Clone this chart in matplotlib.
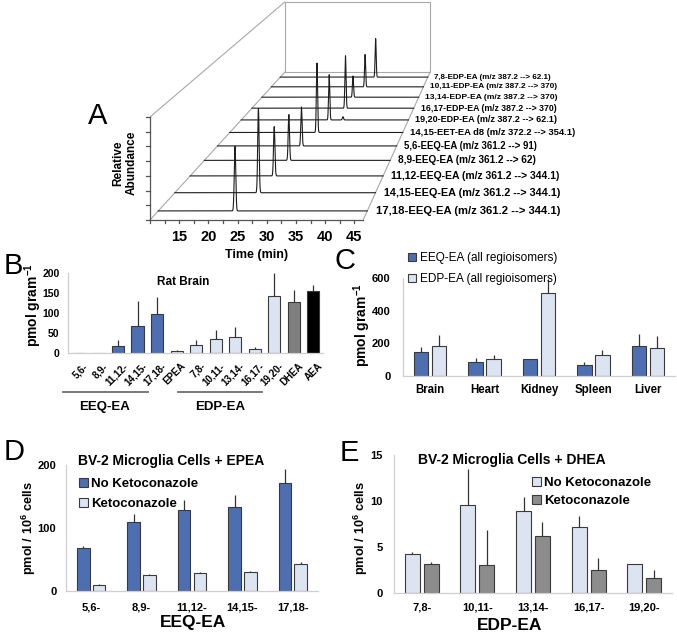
import numpy as np
import matplotlib
matplotlib.use('Agg')
import matplotlib.pyplot as plt
from matplotlib.patches import Patch

plt.rcParams['font.family'] = ['Liberation Sans', 'DejaVu Sans']
plt.rcParams['mathtext.fontset'] = 'custom'
plt.rcParams['mathtext.rm'] = 'Liberation Sans'
plt.rcParams['mathtext.bf'] = 'Liberation Sans:bold'

# ---- Panel A: stacked chromatograms (front to back)
a_labels = ['17,18-EEQ-EA (m/z 361.2 --> 344.1)',
            '14,15-EEQ-EA (m/z 361.2 --> 344.1)',
            '11,12-EEQ-EA (m/z 361.2 --> 344.1)',
            '8,9-EEQ-EA (m/z 361.2 --> 62)',
            '5,6-EEQ-EA (m/z 361.2 --> 91)',
            '14,15-EET-EA d8 (m/z 372.2 --> 354.1)',
            '19,20-EDP-EA (m/z 387.2 --> 62.1)',
            '16,17-EDP-EA (m/z 387.2 --> 370)',
            '13,14-EDP-EA (m/z 387.2 --> 370)',
            '10,11-EDP-EA (m/z 387.2 --> 370)',
            '7,8-EDP-EA (m/z 387.2 --> 62.1)']
a_rt = [23.4, 25.2, 25.9, 26.6, 27.1, 28.4, 29.2, 31.1, 31.2, 32.5, 33.6]
a_height = [64, 87, 53, 51, 45, 83, 56, 67, 28, 44, 54]
a_minor_trace = 6
a_minor_rt = 32.2
a_minor_height = 4
a_time_ticks = [15, 20, 25, 30, 35, 40, 45]

# ---- Panel B: rat brain
b_cats = ['5,6-', '8,9-', '11,12-', '14,15-', '17,18-', 'EPEA', '7,8-', '10,11-',
          '13,14-', '16,17-', '19,20-', 'DHEA', 'AEA']
b_vals = [0, 0, 17, 67, 97, 6, 20, 36, 41, 10, 143, 128, 155]
b_err = [0, 0, 15, 63, 43, 2, 12, 21, 23, 5, 57, 30, 15]
b_groups = ['EEQ', 'EEQ', 'EEQ', 'EEQ', 'EEQ', 'EDP', 'EDP', 'EDP', 'EDP', 'EDP', 'EDP',
            'DHEA', 'AEA']

# ---- Panel C: tissues
c_cats = ['Brain', 'Heart', 'Kidney', 'Spleen', 'Liver']
c_eeq = [150, 85, 103, 68, 182]
c_eeq_err = [30, 28, 4, 15, 78]
c_edp = [183, 107, 507, 130, 170]
c_edp_err = [69, 19, 88, 32, 75]

# ---- Panel D: BV-2 + EPEA
d_cats = ['5,6-', '8,9-', '11,12-', '14,15-', '17,18-']
d_nokc = [68, 110, 128, 133, 172]
d_nokc_err = [3, 12, 17, 20, 21]
d_kc = [10, 26, 28, 30, 43]
d_kc_err = [0.5, 1, 1.5, 2, 3]

# ---- Panel E: BV-2 + DHEA
e_cats = ['7,8-', '10,11-', '13,14-', '16,17-', '19,20-']
e_nokc = [4.2, 9.6, 8.95, 7.2, 3.1]
e_nokc_err = [0.25, 3.85, 1.5, 1.2, 0]
e_kc = [3.15, 3.05, 6.25, 2.55, 1.6]
e_kc_err = [0.2, 3.75, 1.5, 1.25, 0.9]

blue = '#4d6eb0'
light = '#dce3f1'
grey = '#8c8c8c'
edge = '#3a3a3a'
spine = '#cfcfcf'

W, H = 677, 635
fig = plt.figure(figsize=(W / 100, H / 100), dpi=100)


def rect(l, t, r, b):
    return [l / W, 1 - b / H, (r - l) / W, (b - t) / H]


def ftext(x, y, s, **kw):
    fig.text(x / W, 1 - y / H, s, **kw)


# ---------------- Panel A (pseudo 3D in pixel space)
axA = fig.add_axes([0, 0, 1, 1])
axA.set_xlim(0, W)
axA.set_ylim(H, 0)
axA.axis('off')

VX, VY = 573, -244
T0, T1 = 10, 46.5
ZB = 11


def proj(t, h, z):
    s = 1 / (1 + 0.0425 * z)
    X = 150 + (np.asarray(t) - T0) * 5.84
    Y = 220 - np.asarray(h) * 1.03
    return VX + (X - VX) * s, VY + (Y - VY) * s


def seg(p, q, **kw):
    axA.plot([p[0], q[0]], [p[1], q[1]], **kw)


box = dict(color='#a8a8a8', lw=0.8)
seg(proj(T0, 0, 0), proj(T0, 0, ZB), **box)
seg(proj(T1, 0, 0), proj(T1, 0, ZB), **box)
seg(proj(T0, 100, 0), proj(T0, 100, ZB), **box)
bw = [proj(T0, 0, ZB), proj(T1, 0, ZB), proj(T1, 100, ZB), proj(T0, 100, ZB), proj(T0, 0, ZB)]
axA.plot([p[0] for p in bw], [p[1] for p in bw], **box)

ax_style = dict(color='#555555', lw=0.9)
seg(proj(T0, 0, 0), proj(T1, 0, 0), **ax_style)
seg(proj(T0, 0, 0), proj(T0, 100, 0), **ax_style)
for h in np.linspace(0, 100, 8):
    x, y = proj(T0, h, 0)
    axA.plot([x - 4, x], [y, y], **ax_style)
for t in np.arange(10, 46, 2.5):
    x, y = proj(t, 0, 0)
    axA.plot([x, x], [y, y + 3], **ax_style)
for t in a_time_ticks:
    x, y = proj(t, 0, 0)
    axA.text(x, y + 17, str(t), ha='center', va='center', fontsize=10.5, fontweight='bold')
xm, ym = proj(28.25, 0, 0)
axA.text(xm, ym + 35, 'Time (min)', ha='center', va='center', fontsize=9, fontweight='bold')
axA.text(125, 163, 'Relative\nAbundance', rotation=90, ha='center', va='center',
         fontsize=8.5, fontweight='bold', linespacing=1.1)

tt = np.linspace(T0, T1, 3000)
for k in range(len(a_labels)):
    z = k + 0.47
    sig = 0.13
    yv = a_height[k] * np.exp(-0.5 * ((tt - a_rt[k]) / sig) ** 2)
    if k == a_minor_trace:
        yv = yv + a_minor_height * np.exp(-0.5 * ((tt - a_minor_rt) / sig) ** 2)
    px, py = proj(tt, yv, z)
    axA.plot(px, py, color='#1e1e1e', lw=0.8)
    s = 1 / (1 + 0.0425 * z)
    ex, ey = proj(T1, 0, z)
    axA.text(ex + 9 * s, ey, a_labels[k], ha='left', va='center',
             fontsize=8.3 * s, fontweight='bold')


def style(ax, ypad):
    for sp in ['top', 'right']:
        ax.spines[sp].set_visible(False)
    for sp in ['left', 'bottom']:
        ax.spines[sp].set_color(spine)
        ax.spines[sp].set_linewidth(0.9)
    ax.tick_params(length=0)
    ax.tick_params(axis='y', pad=ypad)
    for lab in ax.get_yticklabels():
        lab.set_fontweight('bold')


def errs(ax, x, v, e):
    ax.errorbar(x, v, yerr=[np.zeros(len(e)), e], fmt='none', ecolor='#333333',
                elinewidth=0.9, capsize=0)


# ---------------- Panel B
axB = fig.add_axes(rect(68, 273, 323, 353))
xb = np.arange(len(b_cats))
bcol = {'EEQ': blue, 'EDP': light, 'DHEA': '#7f7f7f', 'AEA': '#000000'}
axB.bar(xb, b_vals, 0.62, color=[bcol[g] for g in b_groups], edgecolor=edge, lw=0.8)
errs(axB, xb, b_vals, b_err)
axB.set_xlim(-0.56, 12.5)
axB.set_ylim(0, 200)
axB.set_yticks([0, 50, 100, 150, 200])
axB.set_xticks([])
style(axB, 6)
for lab in axB.get_yticklabels():
    lab.set_fontsize(7.5)
tr = axB.get_xaxis_transform()
for i, c in enumerate(b_cats):
    axB.text(i + 0.22, -0.1, c, transform=tr, rotation=45, ha='right', va='top',
             rotation_mode='anchor', fontsize=7, fontweight='bold')
axB.plot([-0.82, 3.54], [-0.49, -0.49], transform=tr, clip_on=False, color='#6e6e6e', lw=1.3)
axB.plot([5.08, 9.38], [-0.49, -0.49], transform=tr, clip_on=False, color='#6e6e6e', lw=1.3)
ftext(105, 407, 'EEQ-EA', ha='center', va='center', fontsize=9.5, fontweight='bold')
ftext(220, 407, 'EDP-EA', ha='center', va='center', fontsize=9.5, fontweight='bold')
ftext(183, 282, 'Rat Brain', ha='center', va='center', fontsize=8.5, fontweight='bold')
ftext(33, 305, r'pmol gram$^{\mathbf{-1}}$', rotation=90, ha='center', va='center',
      fontsize=10, fontweight='bold')

# ---------------- Panel C
axC = fig.add_axes(rect(403, 278, 675, 376))
xc = np.arange(len(c_cats))
axC.bar(xc - 0.166, c_eeq, 0.267, color=blue, edgecolor=edge, lw=0.8)
axC.bar(xc + 0.166, c_edp, 0.267, color=light, edgecolor=edge, lw=0.8)
errs(axC, xc - 0.166, c_eeq, c_eeq_err)
errs(axC, xc + 0.166, c_edp, c_edp_err)
axC.set_xlim(-0.5, 4.5)
axC.set_ylim(0, 600)
axC.set_yticks([0, 200, 400, 600])
axC.set_xticks(xc, c_cats, fontsize=8.3, fontweight='bold')
style(axC, 9)
axC.tick_params(axis='x', pad=6)
for lab in axC.get_yticklabels():
    lab.set_fontsize(8)
ftext(362, 325, r'pmol gram$^{\mathbf{-1}}$', rotation=90, ha='center', va='center',
      fontsize=10, fontweight='bold')
fig.legend(handles=[Patch(facecolor=blue, edgecolor=edge, lw=0.8, label='EEQ-EA (all regioisomers)'),
                    Patch(facecolor=light, edgecolor=edge, lw=0.8, label='EDP-EA (all regioisomers)')],
           loc='upper left', bbox_to_anchor=(408 / W, 1 - 252 / H), frameon=False, fontsize=8.5,
           handlelength=0.7, handleheight=0.7, handletextpad=0.3, labelspacing=0.75,
           borderpad=0, borderaxespad=0)

# ---------------- Panel D
axD = fig.add_axes(rect(66, 465, 318, 591))
xd = np.arange(len(d_cats))
axD.bar(xd - 0.155, d_nokc, 0.25, color=blue, edgecolor=edge, lw=0.8)
axD.bar(xd + 0.155, d_kc, 0.25, color=light, edgecolor=edge, lw=0.8)
errs(axD, xd - 0.155, d_nokc, d_nokc_err)
errs(axD, xd + 0.155, d_kc, d_kc_err)
axD.set_xlim(-0.5, 4.5)
axD.set_ylim(0, 200)
axD.set_yticks([0, 100, 200])
axD.set_xticks(xd, d_cats, fontsize=8, fontweight='bold')
style(axD, 7)
axD.tick_params(axis='x', pad=8)
for lab in axD.get_yticklabels():
    lab.set_fontsize(8)
ftext(193, 623, 'EEQ-EA', ha='center', va='center', fontsize=12.5, fontweight='bold')
ftext(171, 461, 'BV-2 Microglia Cells + EPEA', ha='center', va='center', fontsize=10,
      fontweight='bold')
ftext(29, 528, r'pmol / 10$^{\mathbf{6}}$ cells', rotation=90, ha='center', va='center',
      fontsize=9.2, fontweight='bold')
fig.legend(handles=[Patch(facecolor=blue, edgecolor=edge, lw=0.8, label='No Ketoconazole'),
                    Patch(facecolor=light, edgecolor=edge, lw=0.8, label='Ketoconazole')],
           loc='upper left', bbox_to_anchor=(79 / W, 1 - 478 / H), frameon=False,
           handlelength=0.65, handleheight=0.65, handletextpad=0.25, labelspacing=0.62,
           borderpad=0, borderaxespad=0, prop={'weight': 'bold', 'size': 9.5})

# ---------------- Panel E
axE = fig.add_axes(rect(394, 455, 672, 593))
xe = np.arange(len(e_cats))
axE.bar(xe - 0.17, e_nokc, 0.27, color=light, edgecolor=edge, lw=0.8)
axE.bar(xe + 0.17, e_kc, 0.27, color=grey, edgecolor=edge, lw=0.8)
has_err = np.array(e_nokc_err) > 0
errs(axE, (xe - 0.17)[has_err], np.array(e_nokc)[has_err], np.array(e_nokc_err)[has_err])
errs(axE, xe + 0.17, e_kc, e_kc_err)
axE.set_xlim(-0.5, 4.5)
axE.set_ylim(0, 15)
axE.set_yticks([0, 5, 10, 15])
axE.set_xticks(xe, e_cats, fontsize=8, fontweight='bold')
style(axE, 8)
axE.tick_params(axis='x', pad=7)
for lab in axE.get_yticklabels():
    lab.set_fontsize(8)
ftext(510, 625, 'EDP-EA', ha='center', va='center', fontsize=12.5, fontweight='bold')
ftext(512, 460, 'BV-2 Microglia Cells + DHEA', ha='center', va='center', fontsize=10,
      fontweight='bold')
ftext(361, 528, r'pmol / 10$^{\mathbf{6}}$ cells', rotation=90, ha='center', va='center',
      fontsize=9.2, fontweight='bold')
fig.legend(handles=[Patch(facecolor=light, edgecolor=edge, lw=0.8, label='No Ketoconazole'),
                    Patch(facecolor=grey, edgecolor=edge, lw=0.8, label='Ketoconazole')],
           loc='upper left', bbox_to_anchor=(532 / W, 1 - 477 / H), frameon=False,
           handlelength=0.65, handleheight=0.65, handletextpad=0.25, labelspacing=0.45,
           borderpad=0, borderaxespad=0, prop={'weight': 'bold', 'size': 9.5})

# ---------------- panel letters
for let, x, y in [('A', 98, 116), ('B', 13, 266), ('C', 345, 261), ('D', 14, 452), ('E', 349, 453)]:
    ftext(x, y, let, ha='center', va='center', fontsize=21)

fig.savefig('out.png', dpi=100)
